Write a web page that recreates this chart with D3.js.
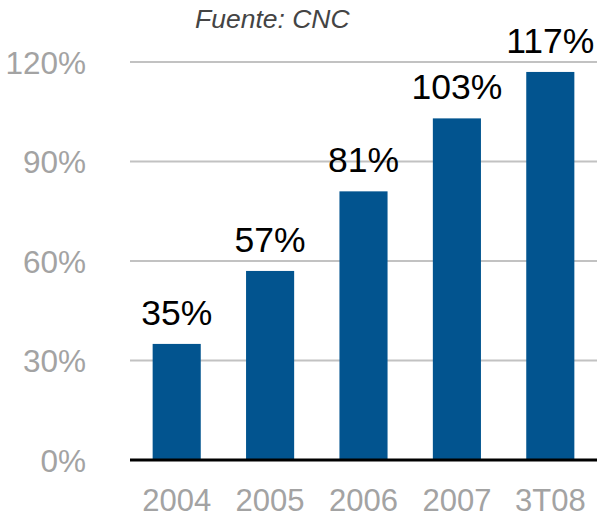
<!DOCTYPE html>
<html>
<head>
<meta charset="utf-8">
<script src="https://cdn.jsdelivr.net/npm/d3@7"></script>
<style>
body { margin:0; background:#fff; }
svg { display:block; font-family:"Liberation Sans", Arial, Helvetica, sans-serif; }
.tick text { fill:#a3a3a3; }
</style>
</head>
<body>
<svg id="chart"></svg>
<script>
var years = ["2004","2005","2006","2007","3T08"];
var values = [35,57,81,103,117];
var yTicks = [0,30,60,90,120];
var source = "Fuente: CNC";

var screen = {width:597,height:517};
var plot = {left:130,right:597,top:62,bottom:460};

var svg = d3.select("#chart")
    .attr("width",screen.width)
    .attr("height",screen.height);

var xScale = d3.scaleBand()
    .domain(years)
    .range([plot.left,plot.right])
    .paddingInner(0.485)
    .paddingOuter(0.2425);

var yScale = d3.scaleLinear()
    .domain([0,120])
    .range([plot.bottom,plot.top]);

// gridlines
svg.append("g")
    .selectAll("line")
    .data(yTicks.slice(1))
    .enter()
    .append("line")
    .attr("x1",plot.left)
    .attr("x2",plot.right)
    .attr("y1",function(d){return yScale(d);})
    .attr("y2",function(d){return yScale(d);})
    .attr("stroke","#c2c2c2")
    .attr("stroke-width",2.2);

// y labels
var yAxis = d3.axisLeft(yScale)
    .tickValues(yTicks)
    .tickSize(0)
    .tickPadding(0)
    .tickFormat(function(d){return d+"%";});
var ya = svg.append("g")
    .attr("transform","translate(86,0)")
    .call(yAxis);
ya.select(".domain").remove();
ya.selectAll("text")
    .attr("font-size",31.5)
    .attr("font-family","inherit")
    .attr("dy","0.36em");

// bars
svg.append("g")
    .selectAll("rect")
    .data(values)
    .enter()
    .append("rect")
    .attr("x",function(d,i){return xScale(years[i]);})
    .attr("y",function(d){return yScale(d);})
    .attr("width",xScale.bandwidth())
    .attr("height",function(d){return yScale(0)-yScale(d);})
    .attr("fill","#02548f");

// baseline
svg.append("line")
    .attr("x1",plot.left)
    .attr("x2",plot.right)
    .attr("y1",yScale(0))
    .attr("y2",yScale(0))
    .attr("stroke","#000")
    .attr("stroke-width",3);

// value labels
svg.append("g")
    .selectAll("text")
    .data(values)
    .enter()
    .append("text")
    .text(function(d){return d+"%";})
    .attr("x",function(d,i){return xScale(years[i])+xScale.bandwidth()/2;})
    .attr("y",function(d){return yScale(d)-19;})
    .attr("text-anchor","middle")
    .attr("font-size",35.5)
    .attr("fill","#000");

// x labels
var xAxis = d3.axisBottom(xScale).tickSize(0).tickPadding(0);
var xa = svg.append("g")
    .attr("transform","translate(0,511)")
    .call(xAxis);
xa.select(".domain").remove();
xa.selectAll("text")
    .attr("font-size",31)
    .attr("font-family","inherit")
    .attr("dy",0)
    .attr("y",0);

// source
svg.append("text")
    .text(source)
    .attr("x",195)
    .attr("y",28)
    .attr("font-size",26.5)
    .attr("font-style","italic")
    .attr("fill","#444");
</script>
</body>
</html>
